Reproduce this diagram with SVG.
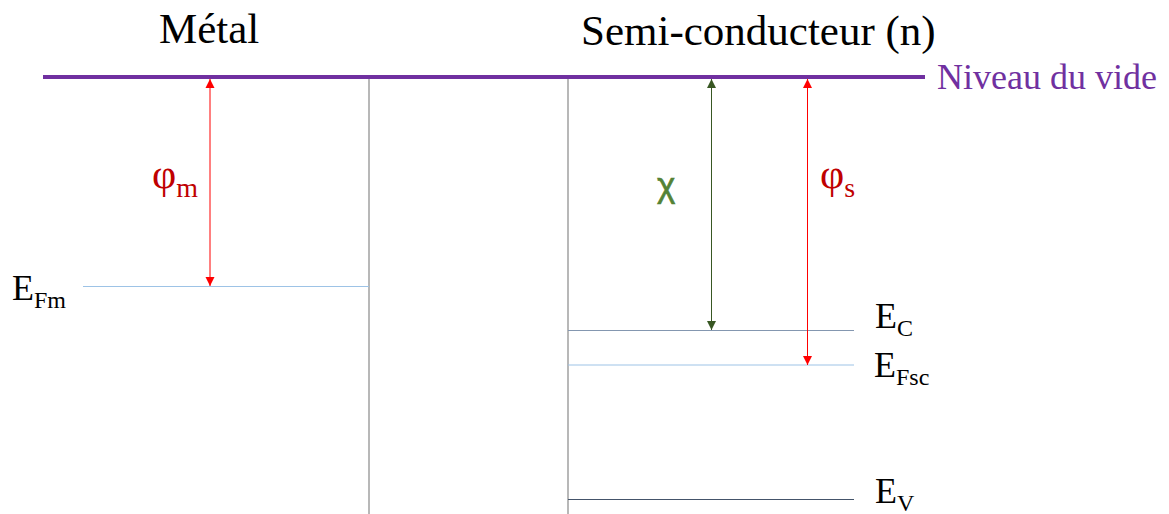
<svg xmlns="http://www.w3.org/2000/svg" width="1169" height="514" viewBox="0 0 1169 514">
<style>
.t{font-family:'Liberation Serif','Times New Roman',serif;fill:#000}
.phi{font-family:'Liberation Serif','Times New Roman',serif;fill:#c00000}
.lvl{stroke-width:1;fill:none}
.wall{stroke:#a0a0a0;stroke-width:1.5;fill:none}
</style>
<defs>
<marker id="ar" markerUnits="userSpaceOnUse" markerWidth="10" markerHeight="10" refX="9" refY="4.5" orient="auto-start-reverse" viewBox="0 0 10 9">
<path d="M0,0 L9,4.5 L0,9 Z" fill="#ff0000"/>
</marker>
<marker id="ag" markerUnits="userSpaceOnUse" markerWidth="10" markerHeight="10" refX="9" refY="4.5" orient="auto-start-reverse" viewBox="0 0 10 9">
<path d="M0,0 L9,4.5 L0,9 Z" fill="#385723"/>
</marker>
</defs>
<rect width="1169" height="514" fill="#fff"/>
<g id="titles">
<text class="t" x="159" y="43" font-size="43" font-family="'Liberation Serif', serif">Métal</text>
<text class="t" x="581" y="45" font-size="43" font-family="'Liberation Serif', serif">Semi-conducteur (n)</text>
</g>
<g id="walls">
<line class="wall" x1="369" y1="77" x2="369" y2="514"/>
<line class="wall" x1="568" y1="77" x2="568" y2="514"/>
</g>
<g id="vacuum">
<line x1="43" y1="77" x2="925" y2="77" stroke="#7030a0" stroke-width="4"/>
<text x="937" y="89" font-size="36" font-family="'Liberation Serif', serif" fill="#7030a0">Niveau du vide</text>
</g>
<g id="EFm">
<line class="lvl" x1="83" y1="286.5" x2="369" y2="286.5" stroke="#9dc3e6"/>
<text class="t" x="12" y="300" font-size="36" font-family="'Liberation Serif', serif">E<tspan font-size="24" dy="8">Fm</tspan></text>
</g>
<g id="EC">
<line class="lvl" x1="568" y1="330.5" x2="854" y2="330.5" stroke="#8497b0"/>
<text class="t" x="875" y="328" font-size="36" font-family="'Liberation Serif', serif">E<tspan font-size="24" dy="8">C</tspan></text>
</g>
<g id="EFsc">
<line class="lvl" x1="568" y1="365" x2="854" y2="365" stroke="#9dc3e6"/>
<text class="t" x="874" y="377" font-size="36" font-family="'Liberation Serif', serif">E<tspan font-size="24" dy="8">Fsc</tspan></text>
</g>
<g id="EV">
<line class="lvl" x1="568" y1="499.5" x2="854" y2="499.5" stroke="#44546a"/>
<text class="t" x="875" y="503" font-size="36" font-family="'Liberation Serif', serif">E<tspan font-size="24" dy="8">V</tspan></text>
</g>
<g id="connectors">
<line x1="210" y1="79" x2="210" y2="286" stroke="#ff0000" stroke-width="1" marker-start="url(#ar)" marker-end="url(#ar)"/>
<line x1="711.5" y1="79" x2="711.5" y2="330" stroke="#385723" stroke-width="1" marker-start="url(#ag)" marker-end="url(#ag)"/>
<line x1="807.5" y1="79" x2="807.5" y2="365" stroke="#ff0000" stroke-width="1" marker-start="url(#ar)" marker-end="url(#ar)"/>
</g>
<g id="labels">
<text class="phi" x="152" y="188" font-size="42" font-family="'Liberation Serif', serif">φ<tspan font-size="28" dy="9">m</tspan></text>
<text class="phi" x="820" y="188" font-size="42" font-family="'Liberation Serif', serif">φ<tspan font-size="28" dy="9">s</tspan></text>
<text x="657" y="197" font-size="35" font-family="'Liberation Sans', sans-serif" fill="#548235" stroke="#548235" stroke-width="0.6">χ</text>
</g>
</svg>
